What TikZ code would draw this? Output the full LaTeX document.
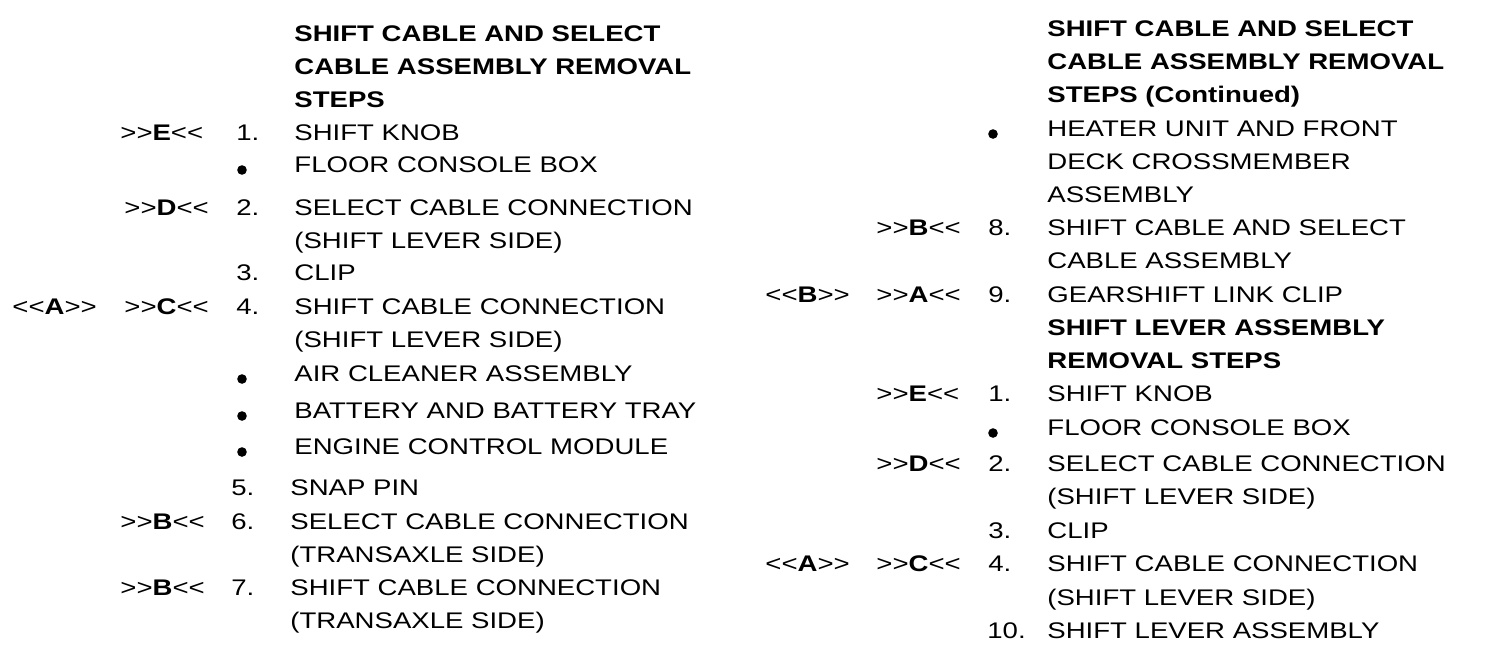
\documentclass[tikz,border=0pt]{standalone}
\usepackage{fontspec}
\setmainfont{Liberation Sans}[FakeStretch=1.22]
\begin{document}
\begin{tikzpicture}[x=0.5pt,y=-0.5pt,
  txt/.style={anchor=base west, inner sep=0pt, font=\fontsize{11.3pt}{13pt}\selectfont},
  hd/.style={txt, font=\fontsize{11.3pt}{13pt}\selectfont\bfseries},
  dot/.style={circle, fill=black, inner sep=0pt, minimum size=4.8pt}]
\fill[white] (0,0) rectangle (1504,660);
\useasboundingbox (0,0) rectangle (1504,660);
% ---------- left column ----------
\node[hd] (lt1) at (294,41) {SHIFT CABLE AND SELECT};
\node[hd] (lt2) at (294,74) {CABLE ASSEMBLY REMOVAL};
\node[hd] (lt3) at (294,107) {STEPS};
\node[txt] (lk1) at (120,140.5) {>{}>\textbf{E}<{}<};
\node[txt] (ln1) at (236,140.5) {1.};
\node[txt] (ls1) at (294,140.5) {SHIFT KNOB};
\node[dot] (lb1) at (242,170) {};
\node[txt] (ls1b) at (294,172.7) {FLOOR CONSOLE BOX};
\node[txt] (lk2) at (124,215) {>{}>\textbf{D}<{}<};
\node[txt] (ln2) at (236,215) {2.};
\node[txt] (ls2) at (294,215) {SELECT CABLE CONNECTION};
\node[txt] (ls2b) at (294,248) {(SHIFT LEVER SIDE)};
\node[txt] (ln3) at (236,280) {3.};
\node[txt] (ls3) at (294,280) {CLIP};
\node[txt] (lr4) at (12,314) {<{}<\textbf{A}>{}>};
\node[txt] (lk4) at (124,314) {>{}>\textbf{C}<{}<};
\node[txt] (ln4) at (236,314) {4.};
\node[txt] (ls4) at (294,314) {SHIFT CABLE CONNECTION};
\node[txt] (ls4b) at (294,347) {(SHIFT LEVER SIDE)};
\node[dot] (lb2) at (242,379) {};
\node[txt] (ls4c) at (294,381) {AIR CLEANER ASSEMBLY};
\node[dot] (lb3) at (242,416) {};
\node[txt] (ls4d) at (294,418) {BATTERY AND BATTERY TRAY};
\node[dot] (lb4) at (242,452) {};
\node[txt] (ls4e) at (294,454) {ENGINE CONTROL MODULE};
\node[txt] (ln5) at (231,495) {5.};
\node[txt] (ls5) at (290,495) {SNAP PIN};
\node[txt] (lk6) at (120,529) {>{}>\textbf{B}<{}<};
\node[txt] (ln6) at (231,529) {6.};
\node[txt] (ls6) at (290,529) {SELECT CABLE CONNECTION};
\node[txt] (ls6b) at (290,562) {(TRANSAXLE SIDE)};
\node[txt] (lk7) at (120,595) {>{}>\textbf{B}<{}<};
\node[txt] (ln7) at (231,595) {7.};
\node[txt] (ls7) at (290,595) {SHIFT CABLE CONNECTION};
\node[txt] (ls7b) at (290,628) {(TRANSAXLE SIDE)};
% ---------- right column ----------
\node[hd] (rt1) at (1047,36) {SHIFT CABLE AND SELECT};
\node[hd] (rt2) at (1047,69) {CABLE ASSEMBLY REMOVAL};
\node[hd] (rt3) at (1047,102) {STEPS (Continued)};
\node[dot] (rb1) at (993,134) {};
\node[txt] (rs0) at (1047,136) {HEATER UNIT AND FRONT};
\node[txt] (rs0b) at (1047,169) {DECK CROSSMEMBER};
\node[txt] (rs0c) at (1047,202) {ASSEMBLY};
\node[txt] (rk8) at (876,235) {>{}>\textbf{B}<{}<};
\node[txt] (rn8) at (988,235) {8.};
\node[txt] (rs8) at (1047,235) {SHIFT CABLE AND SELECT};
\node[txt] (rs8b) at (1047,268) {CABLE ASSEMBLY};
\node[txt] (rr9) at (765,302) {<{}<\textbf{B}>{}>};
\node[txt] (rk9) at (876,302) {>{}>\textbf{A}<{}<};
\node[txt] (rn9) at (988,302) {9.};
\node[txt] (rs9) at (1047,302) {GEARSHIFT LINK CLIP};
\node[hd] (rh1) at (1047,335) {SHIFT LEVER ASSEMBLY};
\node[hd] (rh2) at (1047,368) {REMOVAL STEPS};
\node[txt] (rk1) at (876,401) {>{}>\textbf{E}<{}<};
\node[txt] (rn1) at (988,401) {1.};
\node[txt] (rs1) at (1047,401) {SHIFT KNOB};
\node[dot] (rb2) at (993,433) {};
\node[txt] (rs1b) at (1047,435) {FLOOR CONSOLE BOX};
\node[txt] (rk2) at (876,471) {>{}>\textbf{D}<{}<};
\node[txt] (rn2) at (988,471) {2.};
\node[txt] (rs2) at (1047,471) {SELECT CABLE CONNECTION};
\node[txt] (rs2b) at (1047,504) {(SHIFT LEVER SIDE)};
\node[txt] (rn3) at (988,538) {3.};
\node[txt] (rs3) at (1047,538) {CLIP};
\node[txt] (rr4) at (765,571) {<{}<\textbf{A}>{}>};
\node[txt] (rk4) at (876,571) {>{}>\textbf{C}<{}<};
\node[txt] (rn4) at (988,571) {4.};
\node[txt] (rs4) at (1047,571) {SHIFT CABLE CONNECTION};
\node[txt] (rs4b) at (1047,605) {(SHIFT LEVER SIDE)};
\node[txt] (rn10) at (987,638) {10.};
\node[txt] (rs10) at (1047,638) {SHIFT LEVER ASSEMBLY};
\end{tikzpicture}
\end{document}
